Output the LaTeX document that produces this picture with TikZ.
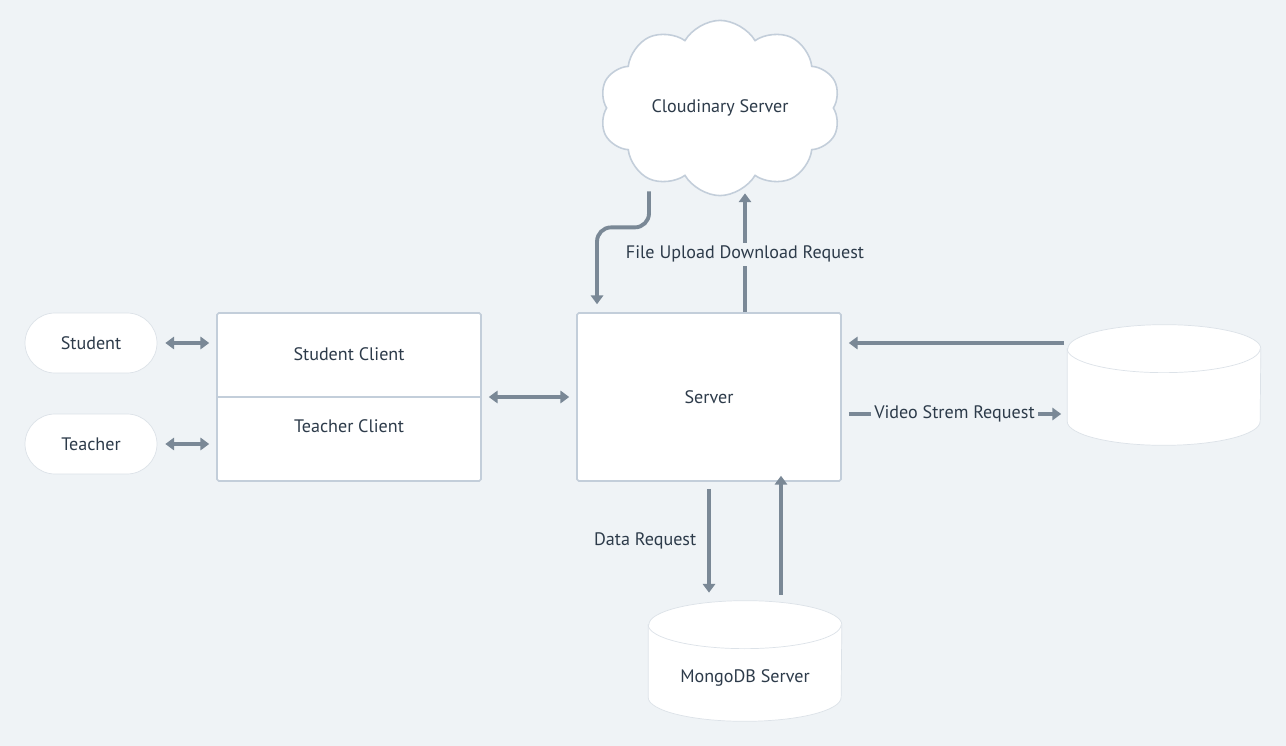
\documentclass[tikz,border=0pt]{standalone}
\usepackage{fontspec}
\setmainfont{PT Sans}
\usepackage{xcolor}
\usetikzlibrary{shapes.symbols,arrows.meta}
\definecolor{bgc}{HTML}{EFF3F6}
\definecolor{boxc}{HTML}{C3CEDA}
\definecolor{cylc}{HTML}{DCE2E8}
\definecolor{arrc}{HTML}{7A8896}
\definecolor{txtc}{HTML}{2D3B4A}
\tikzset{
  every node/.style={text=txtc, font=\fontsize{10.3}{12}\selectfont},
  box/.style={draw=boxc, fill=white, line width=0.9pt, rounded corners=1pt, minimum width=5.28cm, minimum height=3.36cm},
  pill/.style={draw=cylc, fill=white, rounded corners=0.6cm, minimum width=2.64cm, minimum height=1.2cm},
  dbase/.style={minimum width=3.86cm, minimum height=2.4cm},
  conn/.style={draw=arrc, line width=2.2pt, -{Triangle[length=5pt,width=7pt]}},
  biconn/.style={draw=arrc, line width=2.2pt, {Triangle[length=5pt,width=7pt]}-{Triangle[length=5pt,width=7pt]}},
  onlabel/.style={fill=bgc, inner sep=2pt}
}
\begin{document}
\begin{tikzpicture}[x=0.02cm,y=-0.02cm]
\useasboundingbox[fill=bgc] (0,0) rectangle (1286,746);
\node (stu) at (91,343) [pill] {Student};
\node (tea) at (91,444) [pill] {Teacher};
\node (cli) at (349,397) [box] {};
\draw[boxc, line width=0.9pt] (cli.west) -- (cli.east);
\node (stucl) at (349,354) {Student Client};
\node (teacl) at (349,426) {Teacher Client};
\node (srv) at (709,397) [box] {Server};
\node (cloud) at (720,108) [cloud, cloud puffs=10, cloud puff arc=120, aspect=1.45, draw=boxc, fill=white, line width=0.9pt, minimum width=4.82cm, minimum height=3.34cm] {Cloudinary Server};
\node (vid) at (1164,385) [dbase] {};
\draw[cylc, fill=white] ([yshift=-0.48cm]vid.north west) -- ([yshift=0.48cm]vid.south west) arc (180:360:1.93cm and 0.48cm) -- ([yshift=-0.48cm]vid.north east) arc (0:180:1.93cm and 0.48cm) -- cycle;
\draw[cylc] ([yshift=-0.48cm]vid.north west) arc (180:360:1.93cm and 0.48cm);
\node (mongo) at (745,661) [dbase] {};
\draw[cylc, fill=white] ([yshift=-0.48cm]mongo.north west) -- ([yshift=0.48cm]mongo.south west) arc (180:360:1.93cm and 0.48cm) -- ([yshift=-0.48cm]mongo.north east) arc (0:180:1.93cm and 0.48cm) -- cycle;
\draw[cylc] ([yshift=-0.48cm]mongo.north west) arc (180:360:1.93cm and 0.48cm);
\node (mongol) at (745,678) {MongoDB Server};

\draw[biconn, shorten <=0.16cm, shorten >=0.14cm] (stu.east) -- (stu.east -| cli.west);
\draw[biconn, shorten <=0.16cm, shorten >=0.14cm] (tea.east) -- (tea.east -| cli.west);
\draw[biconn, shorten <=0.14cm, shorten >=0.14cm] (cli.east) -- (srv.west);
\draw[conn, rounded corners=8pt, shorten <=-0.1cm, shorten >=0.16cm] ([xshift=-1.42cm]cloud.south) -- ++(0,31) -| ([xshift=-2.24cm]srv.north);
\draw[conn, shorten >=-0.06cm] ([xshift=0.72cm]srv.north) -- node[onlabel] {File Upload Download Request} ([xshift=0.72cm]srv.north |- cloud.south);
\draw[conn, shorten <=0.06cm, shorten >=0.14cm] ([yshift=1.08cm]srv.east -| vid.west) -- ([yshift=1.08cm]srv.east);
\draw[conn, shorten <=0.14cm, shorten >=0.12cm] ([yshift=-0.34cm]srv.east) -- node[onlabel] {Video Strem Request} ([yshift=-0.34cm]srv.east -| vid.west);
\draw[conn, shorten <=0.14cm, shorten >=0.16cm] (srv.south) -- node[left=0.1cm] {Data Request} (srv.south |- mongo.north);
\draw[conn, shorten <=0.12cm, shorten >=-0.12cm] ([xshift=0.72cm]mongo.north) -- ([xshift=0.72cm]mongo.north |- srv.south);
\end{tikzpicture}
\end{document}
